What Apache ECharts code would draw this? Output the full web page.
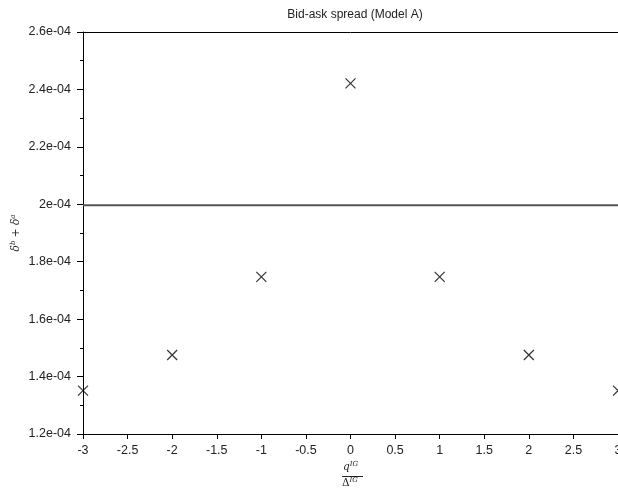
<!DOCTYPE html>
<html>
<head>
<meta charset="utf-8">
<script src="https://cdn.jsdelivr.net/npm/echarts@6/dist/echarts.min.js"></script>
<style>
html,body{margin:0;padding:0;background:#fff;}
#chart{width:618px;height:498px;}
</style>
</head>
<body>
<div id="chart"></div>
<script>
// ---- data ----
const xValues = [-3, -2, -1, 0, 1, 2, 3];
const yValues = [1.351e-4, 1.475e-4, 1.747e-4, 2.421e-4, 1.747e-4, 1.475e-4, 1.351e-4];
const hLineValue = 1.997e-4;
const yTickLabels = ['1.2e-04', '1.4e-04', '1.6e-04', '1.8e-04', '2e-04', '2.2e-04', '2.4e-04', '2.6e-04'];
const yMin = 1.2e-4, yMax = 2.6e-4, yStep = 0.2e-4;
const xMin = -3, xMax = 3, xStep = 0.5;
const titleText = 'Bid-ask spread (Model A)';

const chart = echarts.init(document.getElementById('chart'), null, {renderer: 'canvas'});
const font = 'Liberation Sans, Arial, sans-serif';
const mathFont = 'DejaVu Serif, Liberation Serif, serif';

chart.setOption({
  animation: false,
  backgroundColor: '#fff',
  title: {
    text: titleText,
    left: 350, top: 4, textAlign: 'center',
    textStyle: {fontFamily: font, fontSize: 12, fontWeight: 'normal', color: '#222'}
  },
  grid: {left: 83, right: 0, top: 32, bottom: 64, containLabel: false, outerBoundsMode: 'none'},
  xAxis: [{
    type: 'value', min: xMin, max: xMax, interval: xStep, position: 'bottom',
    axisLine: {show: true, onZero: false, lineStyle: {color: '#000', width: 1}},
    axisTick: {show: true, inside: false, length: 5, lineStyle: {color: '#000'}},
    axisLabel: {margin: 10, fontFamily: font, fontSize: 12.5, color: '#222',
      showMaxLabel: true, showMinLabel: true, hideOverlap: false},
    splitLine: {show: false}
  }, {
    type: 'value', min: xMin, max: xMax, position: 'top',
    axisLine: {show: true, onZero: false, lineStyle: {color: '#000', width: 1}},
    axisTick: {show: false}, axisLabel: {show: false}, splitLine: {show: false}
  }],
  yAxis: {
    type: 'value', min: yMin, max: yMax, interval: yStep,
    axisLine: {show: true, onZero: false, lineStyle: {color: '#000', width: 1}},
    axisTick: {show: true, inside: false, length: 6, lineStyle: {color: '#000'}},
    minorTick: {show: true, splitNumber: 2, length: 3, lineStyle: {color: '#000'}},
    axisLabel: {
      margin: 12, fontFamily: font, fontSize: 12.5, color: '#222',
      formatter: function (v) {
        const i = Math.round((v - yMin) / yStep);
        return yTickLabels[i] !== undefined ? yTickLabels[i] : '';
      }
    },
    splitLine: {show: false},
    name: '{i|δ}{s|b}{n| + }{i|δ}{s|a}',
    nameLocation: 'middle', nameGap: 60, nameRotate: 90, nameMoveOverlap: false,
    nameTextStyle: {
      rich: {
        i: {fontFamily: mathFont, fontStyle: 'italic', fontSize: 10.5, color: '#222'},
        s: {fontFamily: mathFont, fontStyle: 'italic', fontSize: 7, color: '#222', verticalAlign: 'bottom', padding: [0, 0, 6, 0]},
        n: {fontFamily: mathFont, fontSize: 10.5, color: '#222'}
      }
    }
  },
  graphic: [
    {type: 'text', left: 343, top: 461, style: {
      rich: {
        i: {fontFamily: mathFont, fontStyle: 'italic', fontSize: 10.5, fill: '#222'},
        s: {fontFamily: mathFont, fontStyle: 'italic', fontSize: 7, fill: '#222', padding: [0, 0, 5, 0]}
      },
      text: '{i|q}{s|IG}'
    }},
    {type: 'line', shape: {x1: 342, y1: 476.5, x2: 363, y2: 476.5}, style: {stroke: '#222', lineWidth: 1}},
    {type: 'text', left: 342, top: 477, style: {
      rich: {
        i: {fontFamily: mathFont, fontSize: 10.5, fill: '#222'},
        s: {fontFamily: mathFont, fontStyle: 'italic', fontSize: 7, fill: '#222', padding: [0, 0, 5, 0]}
      },
      text: '{i|Δ}{s|IG}'
    }}
  ],
  series: [{
    type: 'line',
    data: [[xMin, hLineValue], [xMax, hLineValue]],
    showSymbol: false, symbol: 'none',
    lineStyle: {color: '#555', width: 2},
    silent: true, z: 1
  }, {
    type: 'scatter',
    data: xValues.map((x, i) => [x, yValues[i]]),
    symbol: 'path://M0,0L10,10M10,0L0,10',
    symbolSize: 10,
    clip: true,
    itemStyle: {color: 'none', borderColor: '#000', borderWidth: 1.2},
    z: 3
  }]
});
</script>
</body>
</html>
